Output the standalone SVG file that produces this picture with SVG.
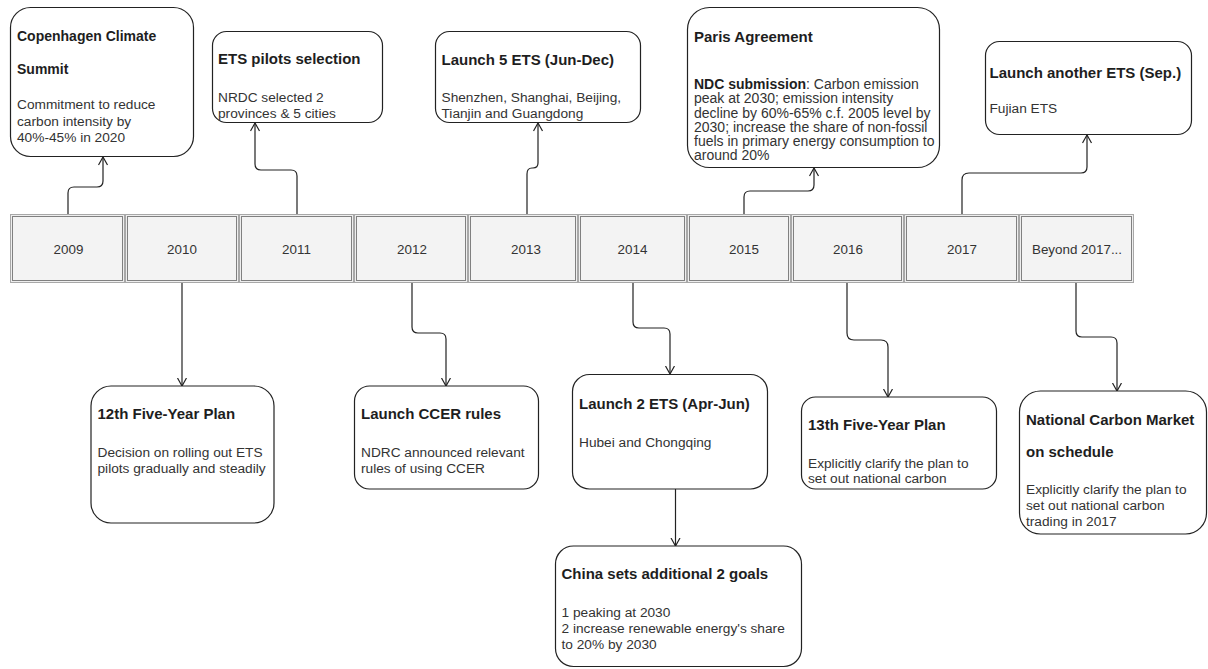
<svg xmlns="http://www.w3.org/2000/svg" width="1208" height="669" viewBox="0 0 1208 669">
<defs>
<style>
.box{fill:#fff;stroke:#222;stroke-width:1.2}
.t{font-family:"Liberation Sans",Arial,sans-serif;font-size:15px;font-weight:bold;fill:#1e1e1e}
.b{font-family:"Liberation Sans",Arial,sans-serif;font-size:13.7px;fill:#333}
.p{font-size:14px}
.co{fill:#eeeeee;stroke:#a8a8a8;stroke-width:1}
.ci{fill:#f3f3f3;stroke:#808080;stroke-width:1}
.yr{font-family:"Liberation Sans",Arial,sans-serif;font-size:13.4px;fill:#333;text-anchor:middle}
.conn{fill:none;stroke:#222;stroke-width:1.2;marker-end:url(#arr)}
</style>
<marker id="arr" markerWidth="10" markerHeight="12" refX="8.5" refY="5" orient="auto" markerUnits="userSpaceOnUse">
<path d="M0.5,0.5 L8.5,5 L0.5,9.5" fill="none" stroke="#222" stroke-width="1.2"/>
</marker>
</defs>
<rect width="1208" height="669" fill="#fff"/>

<g id="timeline">
<g id="y2009"><rect class="co" x="10.5" y="214.5" width="114" height="68"/><rect class="ci" x="12.5" y="216.5" width="110" height="64"/><text class="yr" x="68.5" y="254">2009</text></g>
<g id="y2010"><rect class="co" x="125.5" y="214.5" width="113" height="68"/><rect class="ci" x="127.5" y="216.5" width="109" height="64"/><text class="yr" x="182" y="254">2010</text></g>
<g id="y2011"><rect class="co" x="239.5" y="214.5" width="114" height="68"/><rect class="ci" x="241.5" y="216.5" width="110" height="64"/><text class="yr" x="296.5" y="254">2011</text></g>
<g id="y2012"><rect class="co" x="354.5" y="214.5" width="113" height="68"/><rect class="ci" x="356.5" y="216.5" width="109" height="64"/><text class="yr" x="412" y="254">2012</text></g>
<g id="y2013"><rect class="co" x="468.5" y="214.5" width="109" height="68"/><rect class="ci" x="470.5" y="216.5" width="105" height="64"/><text class="yr" x="526" y="254">2013</text></g>
<g id="y2014"><rect class="co" x="578.5" y="214.5" width="108" height="68"/><rect class="ci" x="580.5" y="216.5" width="104" height="64"/><text class="yr" x="632.5" y="254">2014</text></g>
<g id="y2015"><rect class="co" x="687.5" y="214.5" width="103" height="68"/><rect class="ci" x="689.5" y="216.5" width="99" height="64"/><text class="yr" x="744" y="254">2015</text></g>
<g id="y2016"><rect class="co" x="791.5" y="214.5" width="112" height="68"/><rect class="ci" x="793.5" y="216.5" width="108" height="64"/><text class="yr" x="848" y="254">2016</text></g>
<g id="y2017"><rect class="co" x="904.5" y="214.5" width="114" height="68"/><rect class="ci" x="906.5" y="216.5" width="110" height="64"/><text class="yr" x="962" y="254">2017</text></g>
<g id="ybeyond"><rect class="co" x="1019.5" y="214.5" width="114" height="68"/><rect class="ci" x="1021.5" y="216.5" width="110" height="64"/><text class="yr" x="1077" y="254">Beyond 2017...</text></g>
</g>

<g id="connectors">
<path class="conn" d="M68,214 L68,193 Q68,187 74,187 L97,187 Q103,187 103,181 L103,157"/>
<path class="conn" d="M297,214 L297,176 Q297,170 291,170 L261,170 Q255,170 255,164 L255,123"/>
<path class="conn" d="M527,214 L527,174 Q527,168 532,168 L533,168 Q538,168 538,163 L538,123"/>
<path class="conn" d="M744,214 L744,197 Q744,191 750,191 L808,191 Q814,191 814,185 L814,168"/>
<path class="conn" d="M962,214 L962,180 Q962,173 969,173 L1081,173 Q1087,173 1087,167 L1087,135"/>
<path class="conn" d="M182,283 L182,386"/>
<path class="conn" d="M412,283 L412,327 Q412,333 418,333 L440,333 Q446,333 446,339 L446,386"/>
<path class="conn" d="M633,283 L633,322 Q633,328 639,328 L664,328 Q670,328 670,334 L670,374"/>
<path class="conn" d="M675.5,489 L675.5,546"/>
<path class="conn" d="M847,283 L847,333 Q847,340 854,340 L881,340 Q888,340 888,347 L888,397"/>
<path class="conn" d="M1076,283 L1076,331 Q1076,337 1082,337 L1111,337 Q1117,337 1117,343 L1117,391"/>
</g>

<g id="copenhagen">
<rect class="box" x="10.5" y="7.5" width="183" height="149" rx="20"/>
<text class="t" x="17" y="41" style="font-size:14px">Copenhagen Climate</text>
<text class="t" x="17" y="74" style="font-size:14px">Summit</text>
<text class="b" x="17" y="109">Commitment to reduce</text>
<text class="b" x="17" y="125.5">carbon intensity by</text>
<text class="b" x="17" y="142">40%-45% in 2020</text>
</g>

<g id="ets-pilots">
<rect class="box" x="212.5" y="31.5" width="170" height="91" rx="14"/>
<text class="t" x="218" y="63.5">ETS pilots selection</text>
<text class="b" x="218" y="101.5">NRDC selected 2</text>
<text class="b" x="218" y="117.5">provinces &amp; 5 cities</text>
</g>

<g id="launch5">
<rect class="box" x="435.5" y="31.5" width="205" height="91" rx="14"/>
<text class="t" x="441.5" y="64.5">Launch 5 ETS (Jun-Dec)</text>
<text class="b" x="441.5" y="101.5">Shenzhen, Shanghai, Beijing,</text>
<text class="b" x="441.5" y="117.5">Tianjin and Guangdong</text>
</g>

<g id="paris">
<rect class="box" x="687.5" y="7.5" width="252" height="160" rx="22"/>
<text class="t" x="694" y="41.5">Paris Agreement</text>
<text class="b p" x="694" y="88.5"><tspan font-weight="bold" fill="#1e1e1e">NDC submission</tspan>: Carbon emission</text>
<text class="b p" x="694" y="103">peak at 2030; emission intensity</text>
<text class="b p" x="694" y="117.5">decline by 60%-65% c.f. 2005 level by</text>
<text class="b p" x="694" y="131.5">2030; increase the share of non-fossil</text>
<text class="b p" x="694" y="145.5">fuels in primary energy consumption to</text>
<text class="b p" x="694" y="159.5">around 20%</text>
</g>

<g id="launch-another">
<rect class="box" x="985.5" y="41.5" width="206" height="93" rx="14"/>
<text class="t" x="989.5" y="78">Launch another ETS (Sep.)</text>
<text class="b" x="989.5" y="113">Fujian ETS</text>
</g>

<g id="plan12">
<rect class="box" x="91" y="386" width="183" height="137" rx="20"/>
<text class="t" x="97.5" y="418.5">12th Five-Year Plan</text>
<text class="b" x="97.5" y="456.5">Decision on rolling out ETS</text>
<text class="b" x="97.5" y="473">pilots gradually and steadily</text>
</g>

<g id="ccer">
<rect class="box" x="354.5" y="386" width="184" height="103" rx="15"/>
<text class="t" x="361" y="418.5">Launch CCER rules</text>
<text class="b" x="361" y="456.5">NDRC announced relevant</text>
<text class="b" x="361" y="473">rules of using CCER</text>
</g>

<g id="launch2">
<rect class="box" x="572.5" y="374.5" width="195" height="114.5" rx="17"/>
<text class="t" x="579" y="408.5">Launch 2 ETS (Apr-Jun)</text>
<text class="b" x="579" y="446.5">Hubei and Chongqing</text>
</g>

<g id="china-goals">
<rect class="box" x="555.5" y="546" width="246" height="120.5" rx="18"/>
<text class="t" x="561.5" y="578.5">China sets additional 2 goals</text>
<text class="b" x="561.5" y="616.5">1 peaking at 2030</text>
<text class="b" x="561.5" y="632.5">2 increase renewable energy's share</text>
<text class="b" x="561.5" y="648.5">to 20% by 2030</text>
</g>

<g id="plan13">
<rect class="box" x="801.5" y="397" width="195" height="92" rx="14"/>
<text class="t" x="808" y="430">13th Five-Year Plan</text>
<text class="b" x="808" y="468">Explicitly clarify the plan to</text>
<text class="b" x="808" y="483">set out national carbon</text>
</g>

<g id="national-market">
<rect class="box" x="1019.5" y="391" width="187" height="143" rx="21"/>
<text class="t" x="1026" y="425">National Carbon Market</text>
<text class="t" x="1026" y="457">on schedule</text>
<text class="b" x="1026" y="494">Explicitly clarify the plan to</text>
<text class="b" x="1026" y="510">set out national carbon</text>
<text class="b" x="1026" y="525.5">trading in 2017</text>
</g>
</svg>
